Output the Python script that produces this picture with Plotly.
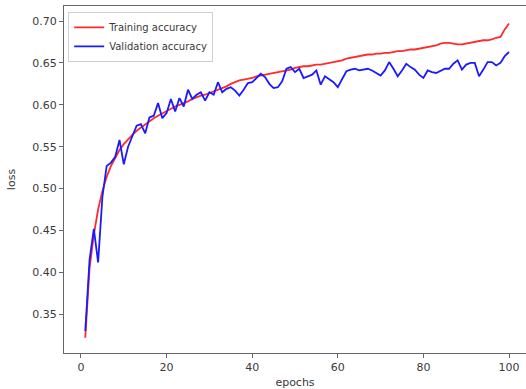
import plotly.graph_objects as go

epochs = list(range(1, 101))

training_accuracy = [
    0.322, 0.405, 0.445, 0.475, 0.497, 0.514, 0.527, 0.537, 0.546, 0.553,
    0.559, 0.564, 0.569, 0.573, 0.577, 0.581, 0.584, 0.587, 0.590, 0.593,
    0.596, 0.598, 0.600, 0.602, 0.604, 0.607, 0.609, 0.611, 0.612, 0.614,
    0.616, 0.618, 0.620, 0.622, 0.625, 0.627, 0.629, 0.630, 0.631, 0.632,
    0.634, 0.635, 0.636, 0.637, 0.638, 0.639, 0.640, 0.641, 0.642, 0.644,
    0.645, 0.646, 0.646, 0.647, 0.648, 0.648, 0.649, 0.650, 0.651, 0.652,
    0.653, 0.655, 0.656, 0.657, 0.658, 0.659, 0.660, 0.660, 0.661, 0.661,
    0.662, 0.662, 0.663, 0.664, 0.664, 0.665, 0.666, 0.666, 0.667, 0.668,
    0.669, 0.670, 0.671, 0.673, 0.674, 0.674, 0.673, 0.672, 0.672, 0.673,
    0.674, 0.675, 0.676, 0.677, 0.677, 0.678, 0.680, 0.681, 0.690, 0.697,
]

validation_accuracy = [
    0.330, 0.415, 0.452, 0.412, 0.490, 0.527, 0.531, 0.538, 0.558, 0.529,
    0.550, 0.563, 0.575, 0.577, 0.566, 0.585, 0.587, 0.602, 0.584, 0.590,
    0.607, 0.592, 0.608, 0.598, 0.618, 0.607, 0.612, 0.615, 0.605, 0.615,
    0.612, 0.627, 0.615, 0.619, 0.621, 0.617, 0.611, 0.618, 0.626, 0.627,
    0.632, 0.637, 0.633, 0.625, 0.620, 0.621, 0.628, 0.643, 0.645, 0.639,
    0.643, 0.632, 0.634, 0.636, 0.641, 0.624, 0.634, 0.630, 0.627, 0.621,
    0.630, 0.640, 0.642, 0.643, 0.641, 0.642, 0.643, 0.641, 0.638, 0.635,
    0.641, 0.651, 0.643, 0.634, 0.641, 0.649, 0.645, 0.642, 0.636, 0.632,
    0.641, 0.639, 0.638, 0.641, 0.643, 0.643, 0.649, 0.653, 0.642, 0.648,
    0.650, 0.650, 0.634, 0.642, 0.651, 0.651, 0.647, 0.650, 0.658, 0.663,
]

x_ticks = [0, 20, 40, 60, 80, 100]
y_ticks = [0.35, 0.40, 0.45, 0.50, 0.55, 0.60, 0.65, 0.70]

FONT = "DejaVu Sans"
TXT = "#3a3a3a"

fig = go.Figure()
fig.add_trace(go.Scatter(x=epochs, y=training_accuracy, mode="lines",
                         name="Training accuracy",
                         line=dict(color="#ff2a2a", width=1.8)))
fig.add_trace(go.Scatter(x=epochs, y=validation_accuracy, mode="lines",
                         name="Validation accuracy",
                         line=dict(color="#1a1aff", width=1.8)))

fig.update_layout(
    width=526, height=389,
    margin=dict(l=64, r=0, t=6, b=36, autoexpand=False),
    paper_bgcolor="white", plot_bgcolor="white",
    font=dict(family=FONT, size=11, color=TXT),
    showlegend=True,
    legend=dict(x=0.009, y=0.983, xanchor="left", yanchor="top",
                bgcolor="rgba(255,255,255,0.9)", bordercolor="#d0d0d0",
                borderwidth=1, font=dict(family=FONT, size=10, color=TXT),
                tracegroupgap=0, itemwidth=30),
    xaxis=dict(range=[-3.97, 103.97], tickvals=x_ticks,
               ticktext=[str(v) for v in x_ticks],
               showgrid=False, zeroline=False,
               showline=True, linecolor="#666666", linewidth=1.3, mirror=True,
               ticks="outside", ticklen=4, tickcolor="#666666",
               title=dict(text="epochs", standoff=5,
                          font=dict(family=FONT, size=11, color=TXT))),
    yaxis=dict(range=[0.3038, 0.7179], tickvals=y_ticks,
               ticktext=["%.2f" % v for v in y_ticks],
               showgrid=False, zeroline=False,
               showline=True, linecolor="#666666", linewidth=1.3, mirror=False,
               ticks="outside", ticklen=4, tickcolor="#666666",
               title=dict(text="loss", standoff=14,
                          font=dict(family=FONT, size=11, color=TXT))),
)

fig.write_html("out.html",
               config={"displayModeBar": False},
               post_script="document.body.style.margin='0px';document.body.style.overflow='hidden';")
